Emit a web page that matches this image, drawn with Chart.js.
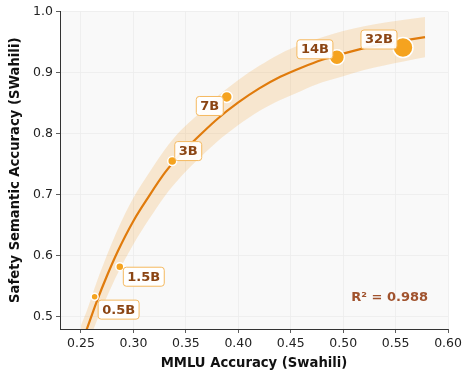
<!DOCTYPE html>
<html>
<head>
<meta charset="utf-8">
<script src="https://cdn.jsdelivr.net/npm/chart.js@4.4.1/dist/chart.umd.min.js"></script>
<style>
  html, body { margin: 0; padding: 0; background: #fff; }
  canvas { display: block; }
</style>
</head>
<body>
<canvas id="myChart" width="465" height="373"></canvas>
<script>
// Data

const modelLabels = ['0.5B', '1.5B', '3B', '7B', '14B', '32B'];
const mmluAcc = [0.263, 0.287, 0.337, 0.389, 0.494, 0.557];
const safetyAcc = [0.533, 0.582, 0.755, 0.860, 0.925, 0.941];

// fitted curve and its band
const fitX = [0.250, 0.256, 0.265, 0.275, 0.285, 0.300, 0.315, 0.330, 0.345, 0.360, 0.380,
  0.400, 0.420, 0.440, 0.460, 0.480, 0.500, 0.520, 0.540, 0.560, 0.578];
const fitY = [0.454, 0.482, 0.525, 0.568, 0.607, 0.657, 0.698, 0.736, 0.767, 0.792, 0.824,
  0.851, 0.874, 0.893, 0.908, 0.921, 0.931, 0.940, 0.947, 0.953, 0.958];
const bandUpper = [0.486, 0.512, 0.557, 0.602, 0.643, 0.695, 0.736, 0.774, 0.805, 0.829, 0.861,
  0.888, 0.911, 0.931, 0.946, 0.958, 0.968, 0.976, 0.982, 0.987, 0.991];
const bandLower = [0.422, 0.452, 0.493, 0.534, 0.571, 0.619, 0.660, 0.698, 0.729, 0.755, 0.787,
  0.814, 0.837, 0.855, 0.870, 0.884, 0.894, 0.904, 0.912, 0.919, 0.925];

const xTicks = [0.25, 0.30, 0.35, 0.40, 0.45, 0.50, 0.55, 0.60];
const yTicks = [0.5, 0.6, 0.7, 0.8, 0.9, 1.0];
const r2Text = 'R² = 0.988';

// Styles

const pointSizes = [3.5, 4, 4.5, 5.5, 7.5, 10];
const labelOffsets = [[24, 13], [24, 10], [16, -10], [-17, 9], [-22, -8], [-24, -8]];
const FONT = "'DejaVu Sans', sans-serif";

const toXY = (xs, ys) => xs.map((x, i) => ({ x: x, y: ys[i] }));

// Plot background

const plotBg = {
  id: 'plotBg',
  beforeDraw(chart) {
    const { ctx, chartArea: a } = chart;
    ctx.save();
    ctx.fillStyle = '#f9f9f9';
    ctx.fillRect(a.left, a.top, a.right - a.left, a.bottom - a.top);
    ctx.restore();
  }
};

// Labels next to points + R² text

const pointLabels = {
  id: 'pointLabels',
  afterDraw(chart) {
    const { ctx, chartArea: a } = chart;
    const xs = chart.scales.x;
    const ys = chart.scales.y;
    ctx.save();
    ctx.font = 'bold 13px ' + FONT;
    ctx.textAlign = 'center';
    ctx.textBaseline = 'middle';
    modelLabels.forEach((lab, i) => {
      const cx = xs.getPixelForValue(mmluAcc[i]) + labelOffsets[i][0];
      const cy = ys.getPixelForValue(safetyAcc[i]) + labelOffsets[i][1];
      const w = ctx.measureText(lab).width + 8;
      const h = 19;
      ctx.beginPath();
      ctx.roundRect(cx - w / 2, cy - h / 2, w, h, 3);
      ctx.fillStyle = 'rgba(255,255,255,0.92)';
      ctx.fill();
      ctx.lineWidth = 1;
      ctx.strokeStyle = '#f5b95f';
      ctx.stroke();
      ctx.fillStyle = '#8b4513';
      ctx.fillText(lab, cx, cy + 0.5);
    });
    ctx.font = 'bold 13px ' + FONT;
    ctx.textAlign = 'right';
    ctx.fillStyle = '#a0522d';
    ctx.fillText(r2Text, a.right - 20, a.bottom - 31);
    ctx.restore();
  }
};

const ctx = document.getElementById('myChart').getContext('2d');
const myChart = new Chart(ctx, {
  type: 'line',
  data: {
    datasets: [{
      label: 'models',
      data: toXY(mmluAcc, safetyAcc),
      showLine: false,
      pointRadius: pointSizes,
      pointHoverRadius: pointSizes,
      pointBackgroundColor: '#f5a31f',
      pointBorderColor: '#ffffff',
      pointBorderWidth: 1.5,
    }, {
      label: 'fit',
      data: toXY(fitX, fitY),
      borderColor: '#e07b0c',
      borderWidth: 2.2,
      pointRadius: 0,
      cubicInterpolationMode: 'monotone',
      fill: false,
    }, {
      label: 'upper',
      data: toXY(fitX, bandUpper),
      borderWidth: 0,
      borderColor: 'rgba(0,0,0,0)',
      pointRadius: 0,
      cubicInterpolationMode: 'monotone',
      fill: false,
    }, {
      label: 'lower',
      data: toXY(fitX, bandLower),
      borderWidth: 0,
      borderColor: 'rgba(0,0,0,0)',
      backgroundColor: 'rgba(240,165,60,0.22)',
      pointRadius: 0,
      cubicInterpolationMode: 'monotone',
      fill: '-1',
    }],
  },
  options: {
    responsive: false,
    animation: false,
    devicePixelRatio: 1,
    layout: { padding: { top: 10, right: 15, left: 0, bottom: 0 } },
    plugins: {
      legend: { display: false },
      tooltip: { enabled: false },
    },
    scales: {
      x: {
        type: 'linear',
        min: 0.23,
        max: 0.60,
        afterBuildTicks: (scale) => { scale.ticks = xTicks.map(v => ({ value: v })); },
        afterFit: (scale) => { scale.height = 44; },
        ticks: {
          autoSkip: false,
          maxRotation: 0,
          padding: 3,
          color: '#222',
          font: { family: FONT, size: 12.5 },
          callback: (v) => v.toFixed(2),
        },
        grid: { color: '#ececec', lineWidth: 0.8, tickColor: '#333', tickLength: 4 },
        border: { display: true, color: '#333', width: 1 },
        title: {
          display: true,
          text: 'MMLU Accuracy (Swahili)',
          color: '#111',
          font: { family: FONT, size: 13.2, weight: 'bold' },
          padding: { top: 0, bottom: 2 },
        },
      },
      y: {
        type: 'linear',
        min: 0.48,
        max: 1.0,
        afterBuildTicks: (scale) => { scale.ticks = yTicks.map(v => ({ value: v })); },
        afterFit: (scale) => { scale.width = 60; },
        ticks: {
          autoSkip: false,
          padding: 3,
          color: '#222',
          font: { family: FONT, size: 12.5 },
          callback: (v) => v.toFixed(1),
        },
        grid: { color: '#ececec', lineWidth: 0.8, tickColor: '#333', tickLength: 4 },
        border: { display: true, color: '#333', width: 1 },
        title: {
          display: true,
          text: 'Safety Semantic Accuracy (SWahili)',
          color: '#111',
          font: { family: FONT, size: 13.2, weight: 'bold' },
          padding: { top: 8, bottom: 0 },
        },
      },
    },
  },
  plugins: [plotBg, pointLabels],
});
</script>
</body>
</html>
